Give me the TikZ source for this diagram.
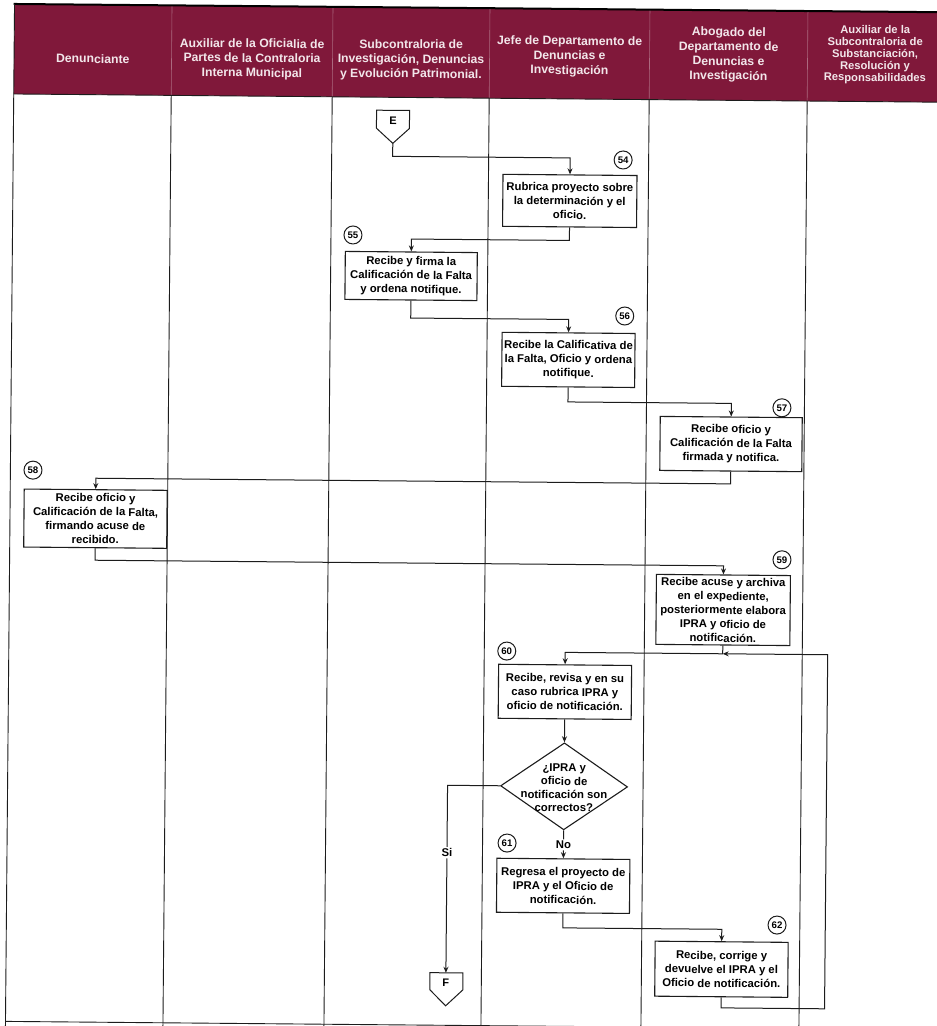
\documentclass[tikz,border=0pt]{standalone}
\usepackage{fontspec}
\setmainfont{Liberation Sans}
\usetikzlibrary{shapes.geometric,arrows.meta,calc}
\definecolor{guinda}{RGB}{128,24,58}
\definecolor{htext}{RGB}{242,230,234}
\definecolor{ink}{RGB}{28,28,28}
\tikzset{
 proc/.style={draw=ink, line width=1.1pt, fill=white, align=center, font=\bfseries\fontsize{11.3}{14}\selectfont, inner xsep=1pt, inner ysep=0pt},
 num/.style={circle, draw=ink, line width=1pt, fill=white, minimum size=18pt, inner sep=0pt, font=\bfseries\fontsize{9.6}{10}\selectfont},
 flow/.style={draw=ink, line width=1pt, -{Stealth[length=6pt,width=5pt]}},
 plain/.style={draw=ink, line width=1pt},
 hdr/.style={align=center, text=htext, font=\bfseries\fontsize{12.2}{14.6}\selectfont},
 lane/.style={draw=ink, line width=0.9pt},
 lbl/.style={fill=white, inner sep=1.5pt, font=\bfseries\fontsize{11.3}{13}\selectfont},
}
\begin{document}
\begin{tikzpicture}[x=1pt,y=-1pt]
\useasboundingbox (0,0) rectangle (937,1026);
\fill[white] (0,0) rectangle (937,1026);
\clip (0,0) rectangle (937,1026);
\begin{scope}[rotate around={-0.51:(468,513)}, transform shape]
% header band
\fill[guinda] (10,8) rectangle (970,98);
\foreach \x in {167.5,328.5,485.5,645.5,803.5}
  \draw[guinda!65!white, line width=0.6pt] (\x,8) -- (\x,98);
\draw[black, line width=2pt] (9,8) -- (970,8);
\draw[lane] (10,98) -- (970,98);
\draw[lane] (10,8) -- (10,1045);
\foreach \x in {167.5,328.5,485.5,645.5,803.5}
  \draw[lane] (\x,98) -- (\x,1045);
\draw[lane] (10,1025.5) -- (970,1025.5);
% header texts
\node[hdr] (h1) at (88.75,62) {Denunciante};
\node[hdr] (h2) at (248,61) {Auxiliar de la Oficialia de\\Partes de la Contraloria\\Interna Municipal};
\node[hdr] (h3) at (407,60.5) {Subcontraloria de\\Investigación, Denuncias\\y Evolución Patrimonial.};
\node[hdr] (h4) at (565.5,55.5) {Jefe de Departamento de\\Denuncias e\\Investigación};
\node[hdr] (h5) at (724.5,52.5) {Abogado del\\Departamento de\\Denuncias e\\Investigación};
\node[hdr, font=\bfseries\fontsize{11.2}{11.9}\selectfont] (h6) at (871,51) {Auxiliar de la\\Subcontraloria de\\Substanciación,\\Resolución y\\Responsabilidades};
% connector E
\draw[plain, fill=white] (373,111) -- (406,111) -- (406,129) -- (389.5,144) -- (373,129) -- cycle;
\node[font=\bfseries\fontsize{11}{12}\selectfont] (E) at (389.5,121) {E};
\coordinate (Etip) at (389.5,144);
% process boxes
\node[proc, minimum width=134pt, minimum height=52pt] (b54) at (567,200) {Rubrica proyecto sobre\\la determinación y el\\oficio.};
\node[proc, minimum width=132pt, minimum height=48pt] (b55) at (409,276.5) {Recibe y firma la\\Calificación de la Falta\\y ordena notifique.};
\node[proc, minimum width=133pt, minimum height=54pt] (b56) at (567,359) {Recibe la Calificativa de\\la Falta, Oficio y ordena\\notifique.};
\node[proc, minimum width=142pt, minimum height=54pt] (b57) at (730.4,441.7) {Recibe oficio y\\Calificación de la Falta\\firmada y notifica.};
\node[proc, minimum width=143pt, minimum height=58pt] (b58) at (95.5,522) {Recibe oficio y\\Calificación de la Falta,\\firmando acuse de\\recibido.};
\node[proc, minimum width=134pt, minimum height=70pt] (b59) at (724,607.7) {Recibe acuse y archiva\\en el expediente,\\posteriormente elabora\\IPRA y oficio de\\notificación.};
\node[proc, minimum width=133pt, minimum height=54pt] (b60) at (566.5,691) {Recibe, revisa y en su\\caso rubrica IPRA y\\oficio de notificación.};
\node[diamond, draw=ink, line width=1.1pt, fill=white, minimum width=127pt, minimum height=87pt, inner sep=0pt] (dia) at (566.5,785.5) {};
\node[align=center, font=\bfseries\fontsize{11.3}{13.3}\selectfont] (diat) at (566.5,787) {¿IPRA y\\oficio de\\notificación son\\correctos?};
\node[proc, minimum width=133pt, minimum height=54pt] (b61) at (566.5,885) {Regresa el proyecto de\\IPRA y el Oficio de\\notificación.};
\node[proc, minimum width=133pt, minimum height=55pt] (b62) at (725.5,967) {Recibe, corrige y\\devuelve el IPRA y el\\Oficio de notificación.};
% connector F
\draw[plain, fill=white] (434,973) -- (467,973) -- (467,990) -- (450,1006) -- (434,990) -- cycle;
\node[font=\bfseries\fontsize{11}{12}\selectfont] (F) at (450,982.5) {F};
\coordinate (Ftop) at (450,973);
% step numbers
\node[num] (c54) at (620,158.6) {54};
\node[num] (c55) at (350.5,236) {55};
\node[num] (c56) at (623,314.6) {56};
\node[num] (c57) at (781,405) {57};
\node[num] (c58) at (32.6,474) {58};
\node[num] (c59) at (782.4,557) {59};
\node[num] (c60) at (508,650.7) {60};
\node[num] (c61) at (510,842.7) {61};
\node[num] (c62) at (780.7,922.3) {62};
% flows
\draw[flow] (Etip) -- ++(0,13) -| (b54.north);
\draw[flow] (b54.south) -- ++(0,13) -| (b55.north);
\draw[flow] (b55.south) -- ++(0,17.5) -| (b56.north);
\draw[flow] (b56.south) -- ++(0,14.5) -| (b57.north);
\draw[flow] (b57.south) -- ++(0,12.3) -| (b58.north);
\draw[flow] (b58.south) -- ++(0,12) -| (b59.north);
\coordinate (j) at ($(b59.south)+(0,8.3)$);
\draw[flow] (b59.south) -- (j) -| (b60.north);
\draw[flow] (b60.south) -- (dia.north);
\draw[flow] (dia.south) -- (b61.north);
\draw[flow] (dia.west) -| (Ftop);
\draw[flow] (b61.south) -- ++(0,14.5) -| (b62.north);
\draw[flow] (b62.south) -- ++(0,10.6) -| ($(j)+(105,0)$) -- (j);
\node[lbl] (no) at (566.5,844) {No};
\node[lbl] (si) at (450,853) {Si};
\end{scope}
\end{tikzpicture}
\end{document}
